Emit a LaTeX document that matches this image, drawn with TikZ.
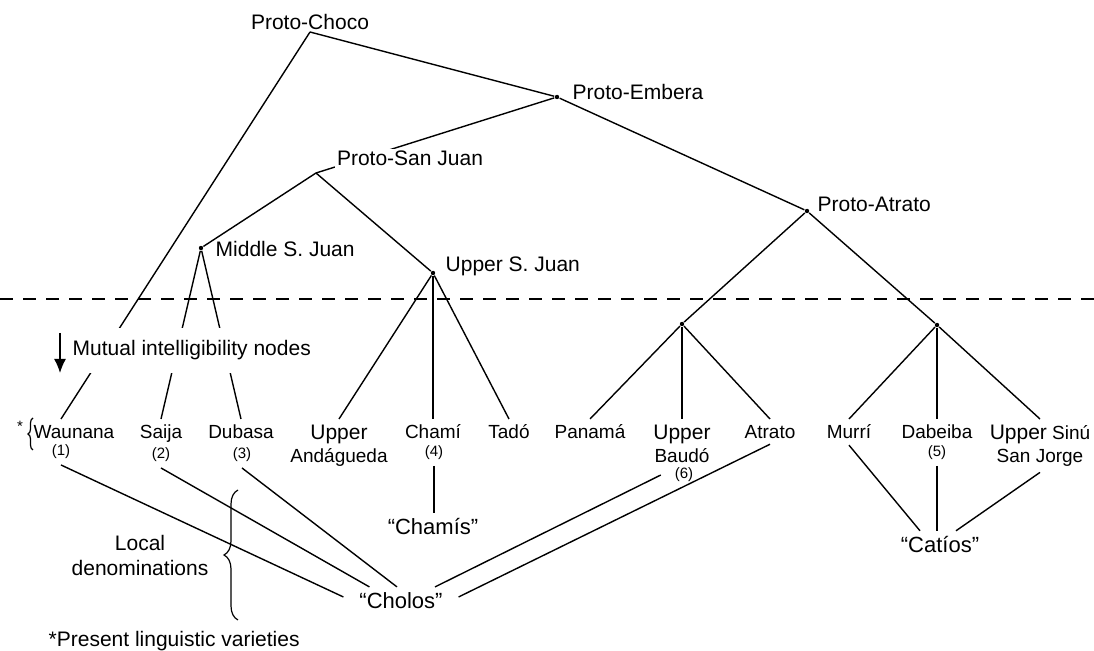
\documentclass[tikz,border=0pt]{standalone}
\usepackage{fontspec}
\setmainfont{Liberation Sans}
\usepackage{tikz}
\usetikzlibrary{positioning,arrows.meta,calc,decorations.pathreplacing}
\tikzset{>=latex}
\newcommand{\Upr}{{\fontsize{10.5}{11.5}\selectfont Upper}}

\begin{document}
\begin{tikzpicture}[x=0.5pt, y=-0.5pt, line width=0.7pt,
		lbl/.style={font=\fontsize{10.5}{12.5}\selectfont, inner sep=1pt},
		leaf/.style={font=\fontsize{9.5}{11.5}\selectfont, inner sep=1pt, outer sep=2pt, align=center, anchor=north},
		num/.style={font=\fontsize{7.5}{9}\selectfont, inner sep=1pt, outer sep=2pt},
		den/.style={font=\fontsize{11}{13}\selectfont, inner sep=1pt, outer sep=2pt},
		dot/.style={circle, fill, inner sep=0pt, minimum size=2.2pt}]
		\useasboundingbox (0,0) rectangle (1094,651);
		\coordinate (choco) at (310,32);
		\coordinate (sanjuan) at (316,173);
		\node[dot] (embera) at (557,97) {};
		\node[dot] (middle) at (201,248) {};
		\node[dot] (upper) at (433,273) {};
		\node[dot] (atrato) at (807,211) {};
		\node[dot] (atrA) at (682,324) {};
		\node[dot] (atrB) at (937,325) {};
		\node[lbl, above] (chocolbl) at (choco) {Proto-Choco};
		\node[lbl, anchor=base west] (emberalbl) at (570,100) {Proto-Embera};
		\node[lbl, anchor=base west] (middlelbl) at (213,257) {Middle S. Juan};
		\node[lbl, anchor=base west] (upperlbl) at (443,272) {Upper S. Juan};
		\node[lbl, anchor=base west] (atratolbl) at (815,212) {Proto-Atrato};

		\node[leaf] (waunana) at (74,419) {Waunana};
		\node[leaf] (saija) at (161,419) {Saija};
		\node[leaf] (dubasa) at (241,419) {Dubasa};
		\node[leaf] (andagueda) at (339,419) {\Upr\\Andágueda};
		\node[leaf] (chami) at (433,419) {Chamí};
		\node[leaf] (tado) at (509,419) {Tadó};
		\node[leaf] (panama) at (590,419) {Panamá};
		\node[leaf] (baudo) at (682,419) {\Upr\\Baudó};
		\node[leaf] (atratov) at (770,419) {Atrato};
		\node[leaf] (murri) at (849,419) {Murrí};
		\node[leaf] (dabeiba) at (937,419) {Dabeiba};
		\node[leaf] (sinu) at (1040,419) {\Upr{} Sinú\\San Jorge};
		\node[num] (n1) at (61,452) {(1)};
		\node[num] (n2) at (161,455) {(2)};
		\node[num] (n3) at (242,455) {(3)};
		\node[num] (n4) at (434,453) {(4)};
		\node[num] (n5) at (937,453) {(5)};
		\node[num] (n6) at (684,475) {(6)};
		\node[num] (star) at (20,426) {*};
		\draw[decorate, decoration={brace, amplitude=2.5pt}, line width=0.6pt] (33,450) -- (33,418);

		\node[den] (chamis) at (433,527) {“Chamís”};
		\node[den] (catios) at (940,545) {“Catíos”};
		\node[den] (cholos) at (401,601) {“Cholos”};

		\draw[dash pattern=on 6.5pt off 5pt, line width=0.6pt] (0,299) -- (1094,299);

		\draw (choco) -- (embera) -- (atrato);
		\draw (embera) -- (sanjuan) -- (middle);
		\draw (sanjuan) -- (upper);
		\draw (atrA) -- (atrato) -- (atrB);
		\draw (choco) -- (waunana.north -| n1);
		\foreach \a/\b in {middle/saija, middle/dubasa, upper/andagueda, upper/chami, upper/tado,
			atrA/panama, atrA/baudo, atrA/atratov, atrB/murri, atrB/dabeiba, atrB/sinu}
			\draw (\a) -- (\b.north);

		\draw (n1.south) -- ([xshift=-5pt,yshift=2pt]cholos.west);
		\draw (n2.south) -- ([xshift=8pt]cholos.north west);
		\draw (n3.south) -- ([xshift=-2pt]cholos.north);
		\draw ([xshift=-4pt]n6.west) -- ([xshift=17pt]cholos.north);
		\draw (atratov.south) -- ([xshift=5pt,yshift=2pt]cholos.east);
		\draw (n4.south) -- (n4.south |- chamis.north);
		\draw (murri.south) -- ([xshift=-10pt]catios.north);
		\draw (n5.south) -- (n5.south |- catios.north);
		\draw (sinu.south) -- ([xshift=8pt]catios.north);

		\node[lbl, fill=white, anchor=base] (sanjuanlbl) at (410,166) {Proto-San Juan};
		\node[lbl, fill=white, inner ysep=6.5pt, anchor=base west] (mutual) at (70,356) {Mutual intelligibility nodes};
		\draw[-{Latex[length=7pt,width=6pt]}] (60,333) -- (60,373);

		\draw[decorate, decoration={brace, amplitude=7pt}, line width=0.6pt] (238,620) -- (238,490);
		\node[lbl, align=center] (local) at (140,555) {Local\\denominations};
		\node[lbl, anchor=base west] (present) at (46,647) {*Present linguistic varieties};
\end{tikzpicture}
\end{document}
